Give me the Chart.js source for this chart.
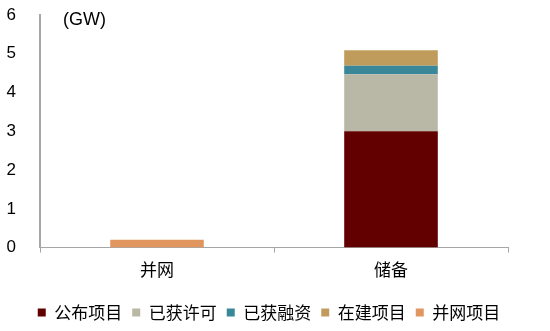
<!DOCTYPE html>
<html><head><meta charset="utf-8">
<script src="https://cdn.jsdelivr.net/npm/chart.js@4/dist/chart.umd.min.js"></script>
<style>html,body{margin:0;padding:0;background:#fff;}#wrap{width:550px;height:331px;}</style>
</head><body><div id="wrap"><canvas id="c" width="550" height="331"></canvas></div>
<script>
const categories = ['并网', '储备'];
const seriesNames = ['公布项目', '已获许可', '已获融资', '在建项目', '并网项目'];
const announced = [0, 3.0];
const permitted = [0, 1.47];
const financed = [0, 0.22];
const underConstruction = [0, 0.4];
const connected = [0.2, 0];
const yTicks = [0, 1, 2, 3, 4, 5, 6];
const unitLabel = '(GW)';
const colors = ['#620000', '#b9b8a6', '#3b879a', '#c09c5c', '#e0965e'];

const values = [announced, permitted, financed, underConstruction, connected];
const cjk = '"Noto Sans CJK SC", "Liberation Sans", sans-serif';
const latin = '"Liberation Sans", Arial, sans-serif';

const unitPlugin = {
  id: 'unit',
  afterDraw(chart) {
    const ctx = chart.ctx, ca = chart.chartArea;
    ctx.save();
    ctx.font = '18px ' + latin;
    ctx.fillStyle = '#000';
    ctx.textBaseline = 'middle';
    ctx.fillText(unitLabel, ca.left + 23, ca.top + 5);
    ctx.restore();
  }
};

new Chart(document.getElementById('c'), {
  type: 'bar',
  data: {
    labels: categories,
    datasets: seriesNames.map((n, i) => ({
      label: n,
      data: values[i],
      backgroundColor: colors[i],
      borderWidth: 0,
      barPercentage: 0.8,
      categoryPercentage: 0.5
    }))
  },
  options: {
    responsive: false,
    animation: false,
    layout: { padding: { left: 0, right: 12, top: 15, bottom: 0 } },
    plugins: {
      legend: {
        position: 'bottom',
        labels: {
          boxWidth: 8, boxHeight: 8, padding: 10,
          color: '#000',
          font: { size: 17, family: cjk }
        }
      },
      tooltip: { enabled: false }
    },
    scales: {
      x: {
        stacked: true,
        grid: { display: true, drawOnChartArea: false, tickLength: 5, color: '#a6a6a6', offset: true },
        border: { color: '#a6a6a6', width: 1 },
        ticks: { color: '#000', font: { size: 17, family: cjk }, padding: 7 },
        afterFit(axis) { axis.height += 7; axis.paddingLeft = 0; axis.paddingRight = 0; }
      },
      y: {
        stacked: true,
        min: 0, max: 6,
        afterBuildTicks(axis) { axis.ticks = yTicks.map(v => ({ value: v })); },
        grid: { display: false },
        border: { color: '#a6a6a6', width: 2 },
        ticks: { color: '#000', font: { size: 17, family: latin }, padding: 16 },
        afterFit(axis) { axis.width = 40; axis.paddingTop = 0; axis.paddingBottom = 0; }
      },
      spacer: {
        position: 'right',
        display: true,
        min: 0, max: 6,
        grid: { display: false },
        border: { display: false },
        ticks: { display: false },
        afterFit(axis) { axis.width = 30; axis.paddingTop = 0; axis.paddingBottom = 0; }
      }
    }
  },
  plugins: [unitPlugin]
});
</script>
</body></html>
